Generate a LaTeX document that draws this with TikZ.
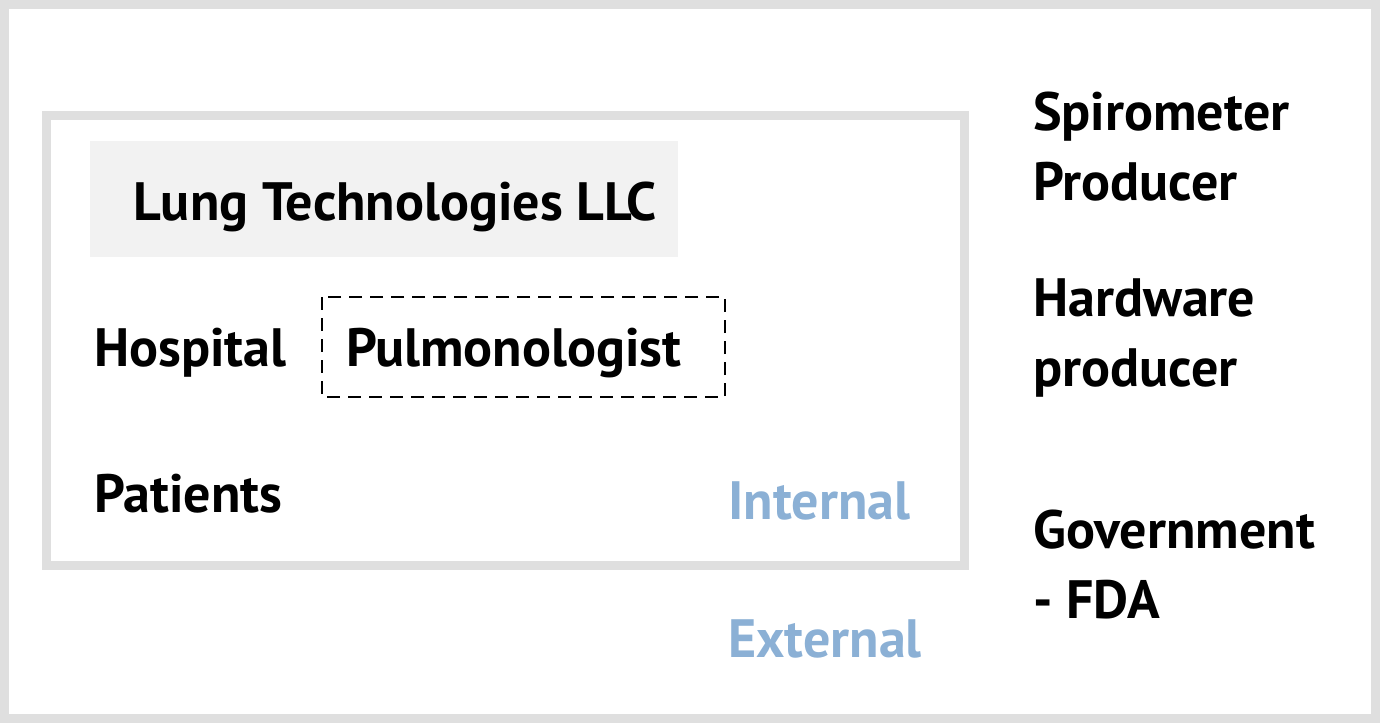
\documentclass[tikz,border=0pt]{standalone}
\usepackage{fontspec}
\setmainfont{PT Sans}
\definecolor{framegray}{HTML}{DFDFDF}
\definecolor{boxgray}{HTML}{F2F2F2}
\definecolor{labelblue}{HTML}{8BB0D5}
\tikzset{
  txt/.style={anchor=base west, inner sep=0pt, font=\fontsize{54}{70}\selectfont\bfseries, align=left},
  bluetxt/.style={txt, text=labelblue},
  frame/.style={draw=framegray, line width=9pt},
}
\begin{document}
\begin{tikzpicture}[x=1pt,y=-1pt]
\useasboundingbox (0,0) rectangle (1380,723);
\draw[frame] (4.5,4.5) rectangle (1375.5,718.5);
\draw[frame] (46.5,115.5) rectangle (964.5,565.5);
\fill[boxgray] (90,141) rectangle (678,257);
\draw[line width=2.3pt, dash pattern=on 13pt off 8pt] (322,297) rectangle (725,397);
\node[txt] (lung) at (133,220) {Lung Technologies LLC};
\node[txt] (hosp) at (94,366) {Hospital};
\node[txt] (pulm) at (346,366) {Pulmonologist};
\node[txt] (pat) at (94,512) {Patients};
\node[bluetxt] (int) at (728,519) {Internal};
\node[bluetxt] (ext) at (728,657) {External};
\node[txt] (spiro) at (1033,200) {Spirometer\\Producer};
\node[txt] (hw) at (1033,386) {Hardware\\producer};
\node[txt] (gov) at (1033,618) {Government\\- FDA};
\end{tikzpicture}
\end{document}
